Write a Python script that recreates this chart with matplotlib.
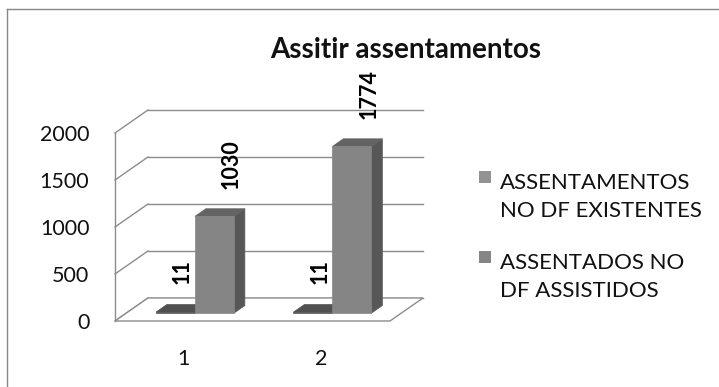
import matplotlib
matplotlib.use("Agg")
import matplotlib.pyplot as plt
from matplotlib.patches import Polygon, Rectangle
from matplotlib.lines import Line2D

# chart data
categories = [1, 2]
series_names = ["ASSENTAMENTOS\nNO DF EXISTENTES", "ASSENTADOS NO\nDF ASSISTIDOS"]
existentes = [11, 11]
assistidos = [1030, 1774]
yticks = [0, 500, 1000, 1500, 2000]

plt.rcParams['font.family'] = ['Lato', 'DejaVu Sans']

W, H = 719, 387
fig = plt.figure(figsize=(W / 100, H / 100), dpi=100)
fig.patch.set_facecolor("white")

# front plane of the 3d box
ax = fig.add_axes([115 / W, (H - 321) / H, 275 / W, 188 / H])
ax.set_xlim(0.5, 2.5)
ax.set_ylim(0, 2000)
for s in ax.spines.values():
    s.set_visible(False)
ax.patch.set_alpha(0)

# depth offset of the back wall (category units, value units)
DX = 0.24
DV = 245
grid_c = "#8c8c8c"

# walls gridlines + side wall
for v in yticks:
    ax.plot([0.5 + DX, 2.5 + DX], [v + DV, v + DV], color=grid_c, lw=1, clip_on=False, zorder=1)
    ax.plot([0.5, 0.5 + DX], [v, v + DV], color=grid_c, lw=1, clip_on=False, zorder=1)
ax.plot([0.5, 0.5], [0, 2000], color=grid_c, lw=1, clip_on=False, zorder=1)

# floor
floor = Polygon([(0.5, 0), (2.5, 0), (2.5 + DX, DV), (0.5 + DX, DV)], closed=True,
                facecolor="white", edgecolor=grid_c, lw=1, clip_on=False, zorder=2)
ax.add_patch(floor)

bw = 0.2836
d0, d1 = 0.34, 0.67


def bar3d(x0, v, front, side, top):
    x1 = x0 + bw
    fx0, fx1 = x0 + d0 * DX, x1 + d0 * DX
    bx0, bx1 = x0 + d1 * DX, x1 + d1 * DX
    y0, y1 = d0 * DV, d1 * DV
    ax.add_patch(Polygon([(fx1, y0), (bx1, y1), (bx1, v + y1), (fx1, v + y0)],
                         facecolor=side, edgecolor=side, lw=0.5, clip_on=False, zorder=3))
    ax.add_patch(Polygon([(fx0, v + y0), (fx1, v + y0), (bx1, v + y1), (bx0, v + y1)],
                         facecolor=top, edgecolor=top, lw=0.5, clip_on=False, zorder=3))
    ax.add_patch(Polygon([(fx0, y0), (fx1, y0), (fx1, v + y0), (fx0, v + y0)],
                         facecolor=front, edgecolor=front, lw=0.5, clip_on=False, zorder=3))
    return (fx0 + fx1) / 2, v + y0


label_kw = dict(rotation=90, ha="center", va="bottom", fontsize=15.5, fontweight="bold",
                textcoords="offset points", annotation_clip=False, zorder=5)
for c, a, b in zip(categories, existentes, assistidos):
    xa, ya = bar3d(c - bw, a, "#555555", "#4a4a4a", "#505050")
    xb, yb = bar3d(c, b, "#858585", "#575757", "#636363")
    ax.annotate(str(a), (xa, ya), xytext=(5, 20), **label_kw)
    ax.annotate(str(b), (xb, yb), xytext=(12, 20), **label_kw)

ax.set_yticks(yticks)
ax.set_yticklabels([str(v) for v in yticks])
ax.set_xticks(categories)
ax.set_xticklabels([str(c) for c in categories])
ax.tick_params(axis="y", length=0, pad=18.5, labelsize=15.5, labelcolor="#111111")
ax.tick_params(axis="x", length=0, pad=20, labelsize=15.5, labelcolor="#111111")

fig.text(406 / W, (H - 58) / H, "Assitir assentamentos", ha="center", va="baseline",
         fontsize=20, fontweight="bold", color="#111111")

# legend
leg_colors = ["#939393", "#858585"]
leg_y = [185, 265]
for name, col, yb in zip(series_names, leg_colors, leg_y):
    fig.patches.append(Rectangle((479 / W, (H - yb + 2) / H), 12 / W, 12 / H,
                                 transform=fig.transFigure, facecolor=col, edgecolor="none"))
    fig.text(500 / W, (H - yb - 32) / H, name, ha="left", va="baseline", fontsize=16,
             color="#111111", linespacing=1.5)

# chart area border
fig.add_artist(Line2D([7 / W, 7 / W], [0, (H - 9) / H], transform=fig.transFigure, color="#888888", lw=1))
fig.add_artist(Line2D([7 / W, 1], [(H - 9) / H, (H - 9) / H], transform=fig.transFigure, color="#888888", lw=1))

fig.savefig("out.png", dpi=100)
